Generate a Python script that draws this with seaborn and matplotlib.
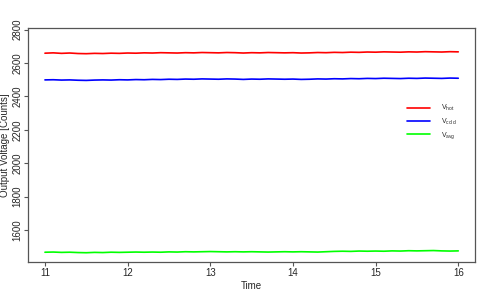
import numpy as np
import pandas as pd
import matplotlib
matplotlib.use("Agg")
import matplotlib.pyplot as plt
import seaborn as sns

time = [11.0 + 0.1 * i for i in range(51)]
v_hot = [2659, 2661, 2658, 2660, 2657, 2656, 2658, 2657, 2659, 2658,
         2660, 2659, 2661, 2660, 2662, 2661, 2660, 2662, 2661, 2663,
         2662, 2661, 2663, 2662, 2660, 2662, 2661, 2663, 2662, 2661,
         2662, 2660, 2661, 2663, 2662, 2664, 2663, 2665, 2664, 2666,
         2665, 2667, 2666, 2665, 2667, 2666, 2668, 2667, 2666, 2668, 2667]
v_cold = [2499, 2500, 2498, 2499, 2497, 2496, 2498, 2499, 2498, 2500,
          2499, 2501, 2500, 2502, 2501, 2503, 2502, 2504, 2503, 2505,
          2504, 2503, 2505, 2504, 2502, 2504, 2503, 2505, 2504, 2503,
          2504, 2502, 2503, 2505, 2504, 2506, 2505, 2507, 2506, 2508,
          2507, 2509, 2508, 2507, 2509, 2508, 2510, 2509, 2508, 2510, 2509]
v_avg = [1467, 1468, 1466, 1467, 1465, 1464, 1466, 1465, 1467, 1466,
         1467, 1468, 1467, 1468, 1467, 1469, 1468, 1470, 1469, 1470,
         1471, 1470, 1469, 1470, 1469, 1470, 1469, 1468, 1469, 1470,
         1469, 1470, 1469, 1468, 1470, 1472, 1473, 1472, 1474, 1473,
         1474, 1473, 1475, 1474, 1476, 1475, 1476, 1477, 1475, 1474, 1475]
labels = [r"V$_{hot}$", r"V$_{cold}$", r"V$_{avg}$"]
colors = ["#FF0000", "#0000FF", "#00FF00"]
x_ticks = [11, 12, 13, 14, 15, 16]
y_ticks = [1600, 1800, 2000, 2200, 2400, 2600, 2800]

df = pd.concat([
    pd.DataFrame({"Time": time, "Voltage": v, "Series": lab})
    for v, lab in zip([v_hot, v_cold, v_avg], labels)
])

sns.set_style("white")
fam = "Liberation Sans"
plt.rcParams["font.family"] = [fam, "DejaVu Sans"]
plt.rcParams["mathtext.fontset"] = "custom"
plt.rcParams["mathtext.rm"] = fam
plt.rcParams["mathtext.it"] = fam
plt.rcParams["mathtext.default"] = "regular"

fig = plt.figure(figsize=(4.9, 2.98), dpi=100)
ax = fig.add_axes([0.058, 0.120, 0.911, 0.785])
sns.lineplot(data=df, x="Time", y="Voltage", hue="Series", palette=colors,
             linewidth=1.2, ax=ax, legend=True)

ax.set_xlim(10.8, 16.2)
ax.set_ylim(1407, 2808)
ax.set_xticks(x_ticks)
ax.set_yticks(y_ticks)
ax.set_xticklabels([str(t) for t in x_ticks], fontsize=7)
ax.set_yticklabels([str(t) for t in y_ticks], fontsize=7, rotation=90, va="center")
ax.tick_params(axis="both", direction="out", length=3, width=0.8, color="#555555",
               bottom=True, left=True, pad=1.2)
for s in ax.spines.values():
    s.set_color("#555555")
    s.set_linewidth(0.9)
ax.set_xlabel("Time", fontsize=7)
ax.set_ylabel("Output Voltage [Counts]", fontsize=7)
ax.xaxis.set_label_coords(0.5, -0.101)
ax.yaxis.set_label_coords(-0.053, 0.5)
ax.xaxis.label.set_va("center")
ax.yaxis.label.set_va("center")

leg = ax.legend(loc="center left", bbox_to_anchor=(0.848, 0.6), frameon=False,
                fontsize=5, handlelength=3.3, labelspacing=0.45, handletextpad=1.6,
                borderpad=0, borderaxespad=0)
for line in leg.get_lines():
    line.set_linewidth(1.2)

fig.savefig("out.png", dpi=100)
